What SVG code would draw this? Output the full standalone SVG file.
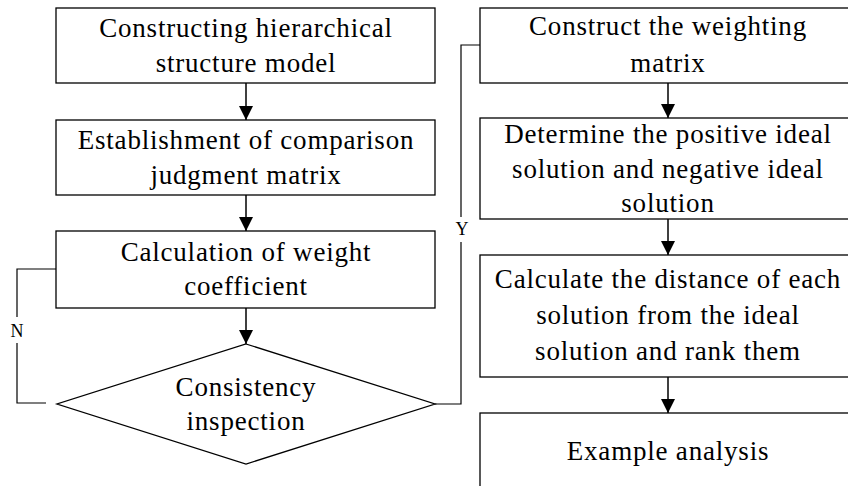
<svg xmlns="http://www.w3.org/2000/svg" width="848" height="486" viewBox="0 0 848 486">
<style>
.box{fill:#fff;stroke:#000;stroke-width:1.3}
.t{font-family:'Liberation Serif','Times New Roman',serif;font-size:27px;letter-spacing:0.8px;fill:#000;text-anchor:middle}
.lbl{font-family:'Liberation Serif','Times New Roman',serif;font-size:18px;fill:#000;text-anchor:middle}
.ln{fill:none;stroke:#000;stroke-width:1.2}
.ar{fill:none;stroke:#000;stroke-width:1.5}
</style>
<defs>
<marker id="ah" markerUnits="userSpaceOnUse" markerWidth="14" markerHeight="15" refX="14" refY="7" orient="auto">
<path d="M0,0 L14,7 L0,14 Z" fill="#000"/>
</marker>
</defs>
<rect width="848" height="486" fill="#fff"/>
<g id="n1"><rect class="box" x="56" y="8" width="379" height="75"/>
<text class="t" x="246" y="37">Constructing hierarchical</text><text class="t" x="246" y="72">structure model</text></g>
<g id="n2"><rect class="box" x="56" y="120" width="379" height="75"/>
<text class="t" x="246" y="149">Establishment of comparison</text><text class="t" x="246" y="184">judgment matrix</text></g>
<g id="n3"><rect class="box" x="56" y="231" width="379" height="77"/>
<text class="t" x="246" y="261">Calculation of weight</text><text class="t" x="246" y="295">coefficient</text></g>
<g id="n4"><polygon class="box" points="246,344 435,404 246,464 57,404"/>
<text class="t" x="246" y="396">Consistency</text><text class="t" x="246" y="430">inspection</text></g>
<g id="r1"><rect class="box" x="480" y="8" width="380" height="75"/>
<text class="t" x="668" y="35">Construct the weighting</text><text class="t" x="668" y="72">matrix</text></g>
<g id="r2"><rect class="box" x="480" y="118" width="380" height="101"/>
<text class="t" x="668" y="143">Determine the positive ideal</text><text class="t" x="668" y="178">solution and negative ideal</text><text class="t" x="668" y="212">solution</text></g>
<g id="r3"><rect class="box" x="480" y="255" width="380" height="122"/>
<text class="t" x="668" y="288">Calculate the distance of each</text><text class="t" x="668" y="324">solution from the ideal</text><text class="t" x="668" y="360">solution and rank them</text></g>
<g id="r4"><rect class="box" x="480" y="413" width="380" height="90"/>
<text class="t" x="668" y="460">Example analysis</text></g>
<g id="connectors">
<line class="ar" x1="246" y1="83" x2="246" y2="120" marker-end="url(#ah)"/>
<line class="ar" x1="246" y1="195" x2="246" y2="231" marker-end="url(#ah)"/>
<line class="ar" x1="246" y1="308" x2="246" y2="344" marker-end="url(#ah)"/>
<line class="ar" x1="668" y1="83" x2="668" y2="118" marker-end="url(#ah)"/>
<line class="ar" x1="668" y1="219" x2="668" y2="255" marker-end="url(#ah)"/>
<line class="ar" x1="668" y1="377" x2="668" y2="413" marker-end="url(#ah)"/>
<polyline class="ln" points="46,403 17,403 17,343"/>
<polyline class="ln" points="17,317 17,269 56,269"/>
<text class="lbl" x="17" y="337">N</text>
<polyline class="ln" points="435,404 461,404 461,242"/>
<polyline class="ln" points="461,217 461,45 480,45"/>
<text class="lbl" x="462" y="235">Y</text>
</g>
</svg>
